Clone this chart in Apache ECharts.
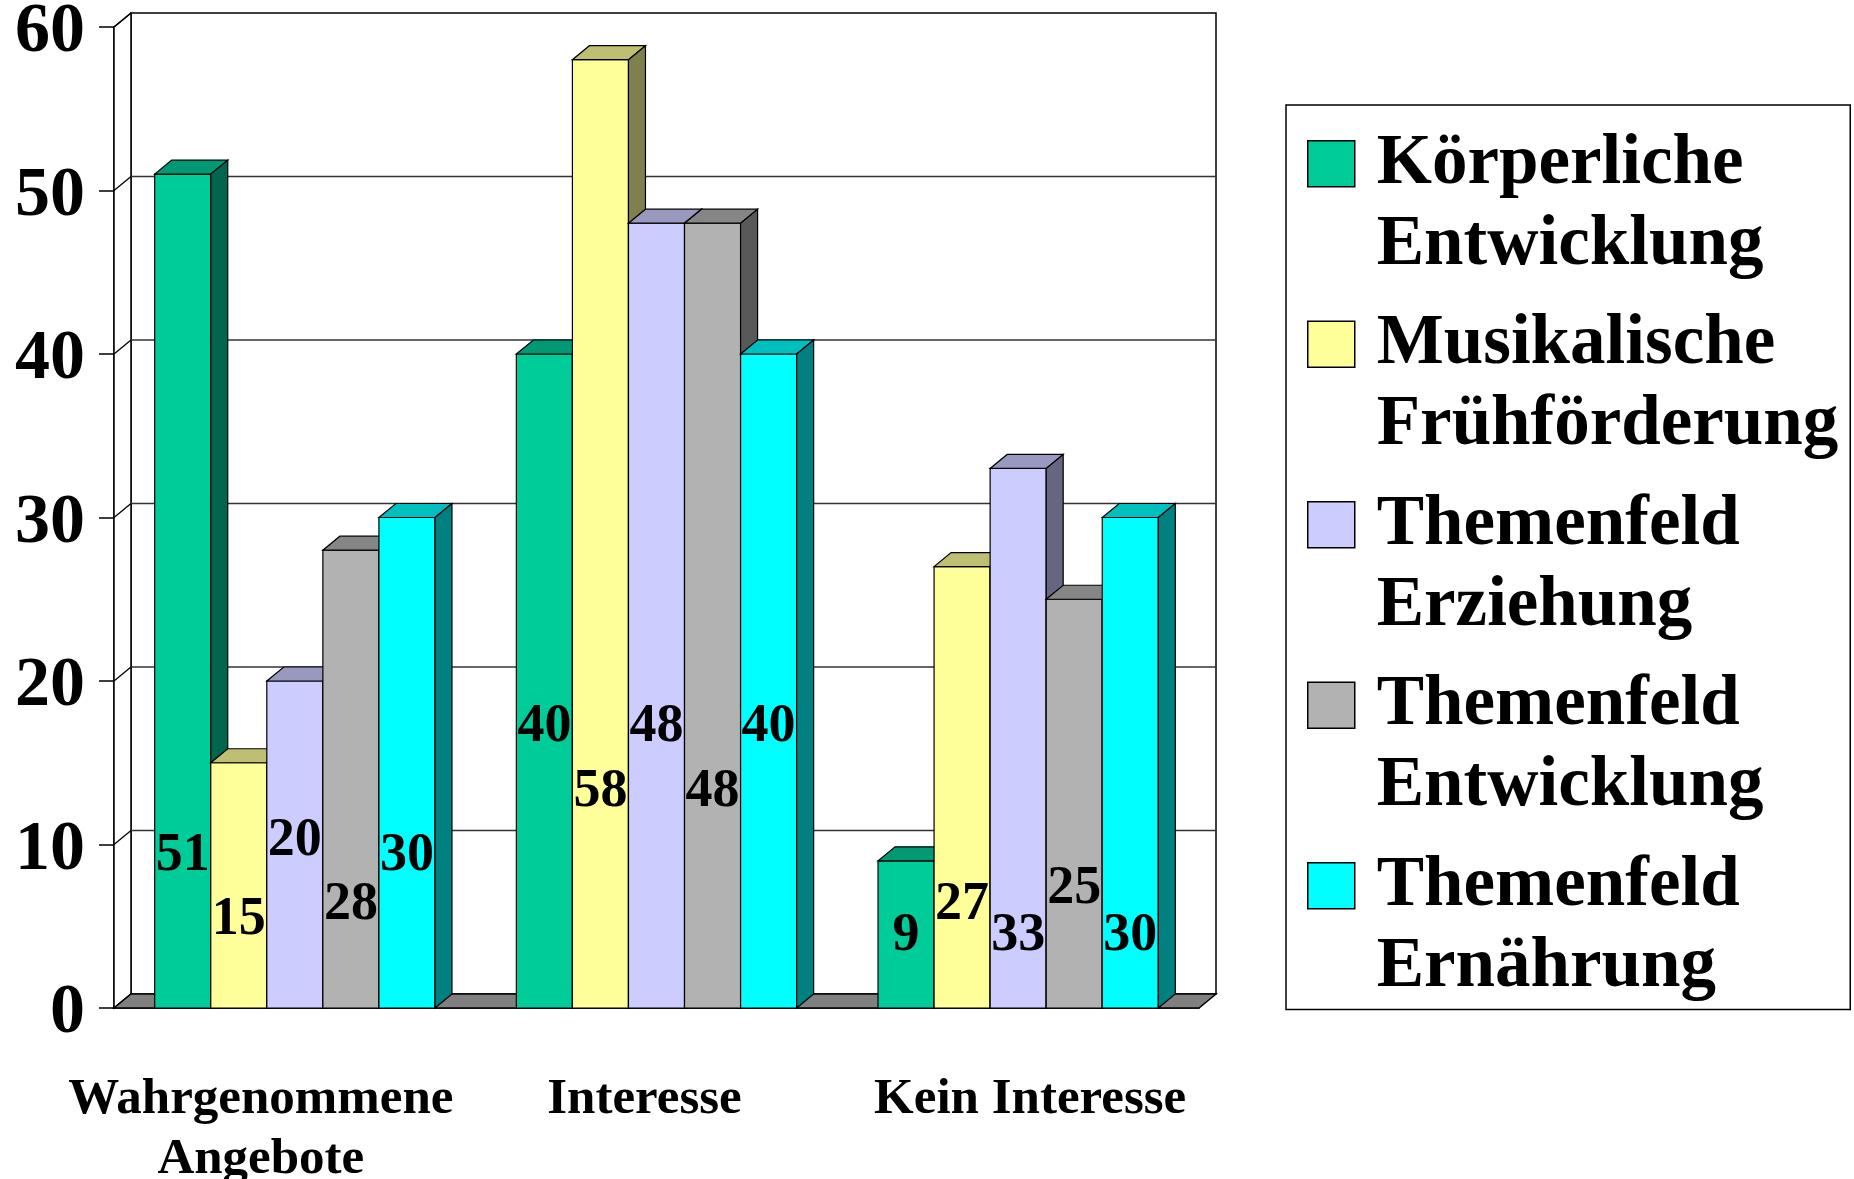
<!DOCTYPE html>
<html>
<head>
<meta charset="utf-8">
<title>Angebote und Interesse</title>
<script src="https://cdn.jsdelivr.net/npm/echarts@6/dist/echarts.min.js"></script>
<style>
html,body{margin:0;padding:0;background:#fff;}
#main{width:1854px;height:1179px;}
</style>
</head>
<body>
<div id="main"></div>
<script>
var categories = ['Wahrgenommene\nAngebote', 'Interesse', 'Kein Interesse'];
var seriesNames = ['Körperliche\nEntwicklung', 'Musikalische\nFrühförderung', 'Themenfeld\nErziehung', 'Themenfeld\nEntwicklung', 'Themenfeld\nErnährung'];
var koerperlich = [51, 40, 9];
var musikalisch = [15, 58, 27];
var erziehung = [20, 48, 33];
var entwicklung = [28, 48, 25];
var ernaehrung = [30, 40, 30];
var yTicks = [0, 10, 20, 30, 40, 50, 60];

// where the value labels sit (axis units) - the original puts them at odd heights
var labelLevels = [
    [9.3, 17.2, 4.4],
    [5.4, 13.2, 6.3],
    [10.2, 17.2, 4.4],
    [6.3, 13.2, 7.3],
    [9.3, 17.2, 4.4]
];

var faceColors = ['#00CC99', '#FFFF99', '#CCCCFF', '#B2B2B2', '#00FFFF'];
var topColors  = ['#009973', '#BFBF73', '#9999BF', '#868686', '#00BFBF'];
var sideColors = ['#00664D', '#80804D', '#666680', '#595959', '#008080'];

var FONT = "'Liberation Serif', 'Times New Roman', serif";
var DX = 17, DY = 14;       // depth of the 3d look
var GROUP_RATIO = 0.775;    // part of a category taken by the bars

var myChart = echarts.init(document.getElementById('main'));

// back wall, side wall, gridlines and floor
function renderFrame(params, api) {
    var cs = params.coordSys;
    var x0 = cs.x, x1 = cs.x + cs.width;
    var yTop = cs.y, yBot = cs.y + cs.height;
    var kids = [];
    kids.push({type: 'polygon', shape: {points: [[x0 + DX, yTop - DY], [x1 + DX, yTop - DY], [x1 + DX, yBot - DY], [x0 + DX, yBot - DY]]},
        style: {fill: '#fff', stroke: '#000', lineWidth: 1.5}});
    kids.push({type: 'polygon', shape: {points: [[x0, yTop], [x0 + DX, yTop - DY], [x0 + DX, yBot - DY], [x0, yBot]]},
        style: {fill: '#fff', stroke: '#000', lineWidth: 1.5}});
    yTicks.forEach(function (v) {
        var y = api.coord([0, v])[1];
        if (v > 0 && v < 60) {
            kids.push({type: 'line', shape: {x1: x0 + DX, y1: y - DY, x2: x1 + DX, y2: y - DY},
                style: {stroke: '#333', lineWidth: 1.3}});
        }
        kids.push({type: 'line', shape: {x1: x0, y1: y, x2: x0 + DX, y2: y - DY},
            style: {stroke: '#000', lineWidth: 1.3}});
    });
    kids.push({type: 'polygon', shape: {points: [[x0, yBot], [x0 + DX, yBot - DY], [x1 + DX, yBot - DY], [x1, yBot]]},
        style: {fill: '#808080', stroke: '#000', lineWidth: 1.5}});
    return {type: 'group', children: kids};
}

function makeBarRender(s) {
    return function (params, api) {
        var cat = api.value(0), val = api.value(1);
        var base = api.coord([cat, 0]);
        var top = api.coord([cat, val]);
        var band = api.size([1, 0])[0];
        var barW = band * GROUP_RATIO / seriesNames.length;
        var xl = base[0] - band * GROUP_RATIO / 2 + s * barW;
        var xr = xl + barW;
        var yb = base[1], yt = top[1];
        var lab = api.coord([cat, api.value(2)]);
        var edge = {stroke: '#000', lineWidth: 1.2};
        return {
            type: 'group',
            children: [
                {type: 'rect', shape: {x: xl, y: yt, width: barW, height: yb - yt},
                    style: echarts.util.extend({fill: faceColors[s]}, edge)},
                {type: 'polygon', shape: {points: [[xl, yt], [xr, yt], [xr + DX, yt - DY], [xl + DX, yt - DY]]},
                    style: echarts.util.extend({fill: topColors[s]}, edge)},
                {type: 'polygon', shape: {points: [[xr, yb], [xr + DX, yb - DY], [xr + DX, yt - DY], [xr, yt]]},
                    style: echarts.util.extend({fill: sideColors[s]}, edge)},
                {type: 'text', x: (xl + xr) / 2, y: lab[1], z2: 100,
                    style: {text: String(val), fontSize: 54, fontWeight: 'bold', fontFamily: FONT,
                        fill: '#000', align: 'center', verticalAlign: 'middle'}}
            ]
        };
    };
}

var allValues = [koerperlich, musikalisch, erziehung, entwicklung, ernaehrung];

var series = [{
    type: 'custom',
    name: 'frame',
    z: 1,
    silent: true,
    renderItem: renderFrame,
    encode: {x: 0, y: 1},
    data: [[0, 0]]
}];
allValues.forEach(function (vals, s) {
    series.push({
        type: 'custom',
        name: seriesNames[s],
        z: 2,
        itemStyle: {color: faceColors[s]},
        renderItem: makeBarRender(s),
        encode: {x: 0, y: 1},
        data: vals.map(function (v, i) { return [i, v, labelLevels[s][i]]; })
    });
});

var catRich = {};
var catShift = [[0, 68, 0, 0], [0, 24, 0, 0], [0, 0, 0, 24]];
catShift.forEach(function (p, i) {
    catRich['c' + i] = {fontSize: 51, fontWeight: 'bold', fontFamily: FONT, color: '#000', lineHeight: 60, padding: p};
});

var option = {
    animation: false,
    backgroundColor: '#fff',
    grid: {left: 114, top: 27, width: 1085, height: 981, outerBoundsMode: 'none', containLabel: false},
    legend: {
        data: seriesNames,
        orient: 'vertical',
        left: 1286,
        top: 105,
        padding: [18, 12, 1, 21],
        itemGap: 17,
        itemWidth: 64,
        itemHeight: 162,
        icon: 'path://M0,17L47,17L47,63L0,63Z M64,0L64,0 M64,162L64,162',
        itemStyle: {borderColor: '#000', borderWidth: 1.5},
        borderColor: '#000',
        borderWidth: 1.5,
        backgroundColor: '#fff',
        selectedMode: false,
        textStyle: {fontSize: 71, fontWeight: 'bold', fontFamily: FONT, color: '#000', lineHeight: 81}
    },
    xAxis: {
        type: 'category',
        data: categories,
        axisLine: {lineStyle: {color: '#000', width: 1.5}},
        axisTick: {length: 17, lineStyle: {color: '#000', width: 1.5}},
        splitLine: {show: false},
        axisLabel: {
            interval: 0,
            margin: 62,
            formatter: function (v, i) {
                return v.split('\n').map(function (l) { return '{c' + i + '|' + l + '}'; }).join('\n');
            },
            rich: catRich
        }
    },
    yAxis: {
        type: 'value',
        min: 0,
        max: 60,
        interval: 10,
        axisLine: {show: true, lineStyle: {color: '#000', width: 1.5}},
        axisTick: {show: true, length: 15, lineStyle: {color: '#000', width: 1.5}},
        splitLine: {show: false},
        // labels sit a little below their ticks in the original
        axisLabel: {fontSize: 70, fontWeight: 'bold', fontFamily: FONT, color: '#000', margin: 29,
            verticalAlign: 'top', lineHeight: 12}
    },
    series: series
};

myChart.setOption(option);
</script>
</body>
</html>
